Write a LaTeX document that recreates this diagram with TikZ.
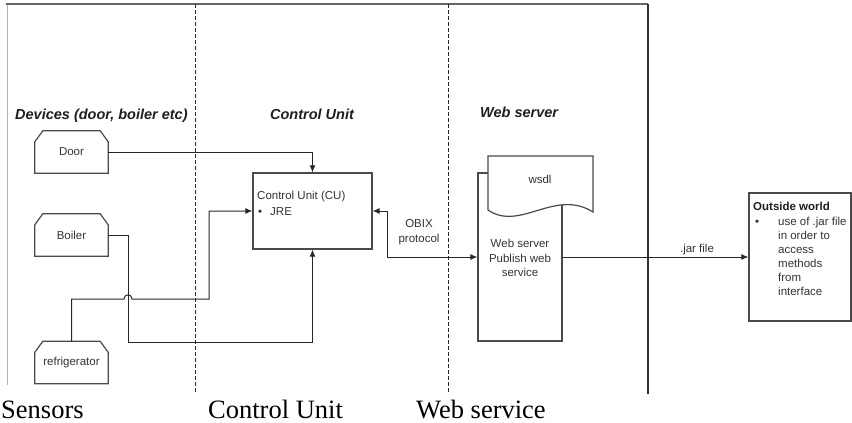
\documentclass[tikz,border=0pt]{standalone}
\usepackage{fontspec}
\setmainfont{Liberation Serif}
\setsansfont{Liberation Sans}
\usetikzlibrary{arrows.meta,calc}
\definecolor{ln}{HTML}{262626}
\definecolor{bx}{HTML}{4A4A4A}
\definecolor{txt}{HTML}{333333}
\definecolor{ttl}{HTML}{1E1E1E}
\begin{document}
\begin{tikzpicture}[x=1pt,y=-1pt,
  conn/.style={draw=ln,line width=1pt},
  arr/.style={-{Latex[length=7pt,width=6pt]}},
  boxline/.style={draw=bx,line width=1.2pt},
  small/.style={font=\sffamily\fontsize{11.5}{14.5}\selectfont,text=txt,inner sep=0pt},
  ttlstyle/.style={font=\sffamily\bfseries\itshape\fontsize{14.5}{16}\selectfont,text=ttl,inner sep=0pt},
  bottomlbl/.style={font=\fontsize{26.5}{30}\selectfont,text=black,inner sep=0pt,anchor=base west},
  devbox/.style={minimum width=73pt,minimum height=42pt,inner sep=0pt,font=\sffamily\fontsize{11.5}{13}\selectfont,text=txt},
  divider/.style={draw=ln,line width=0.8pt,dash pattern=on 4pt off 2pt}]
\useasboundingbox (0,0) rectangle (852,423);

% frame
\draw[draw=black!30,line width=1pt] (7,4) -- (7,385);
\draw[draw=black!60,line width=1.6pt] (6,4) -- (648,4);
\draw[draw=black!80,line width=1.3pt] (648,4) -- (648,394);

% dividers
\draw[divider] (195,4) -- (195,393);
\draw[divider] (448,4) -- (448,393);

% titles
\node[ttlstyle,anchor=base west] (tdev) at (15,119) {Devices (door, boiler etc)};
\node[ttlstyle,anchor=base] (tcu) at (312,119) {Control Unit};
\node[ttlstyle,anchor=base west] (tws) at (480,117) {Web server};

% devices
\node[devbox] (door) at (71.5,152) {Door};
\node[devbox] (boiler) at (71.5,235) {Boiler};
\node[devbox] (fridge) at (71.5,362.5) {refrigerator};
\foreach \n in {door,boiler,fridge}{
  \draw[boxline] (\n.south west) -- ($(\n.north west)+(0,11)$) -- ($(\n.north west)+(8,0)$)
    -- ($(\n.north east)+(-8,0)$) -- ($(\n.north east)+(0,11)$) -- (\n.south east) -- cycle;
}

% control unit
\node[boxline,draw,minimum width=119pt,minimum height=76pt,inner sep=0pt] (cu) at (312.5,211) {};
\node[small,anchor=base west] (cutxt) at (257,199) {Control Unit (CU)};
\node[small,anchor=base west] (cubul) at (258,215) {•};
\node[small,anchor=base west] (cujre) at (270,215) {JRE};

% web server
\node[boxline,draw,minimum width=84pt,minimum height=168pt,inner sep=0pt] (ws) at (520,257) {};
\filldraw[boxline,fill=white] (488,210) -- (488,156) -- (593,156) -- (593,212)
  .. controls (555,188) and (520,232) .. (488,210) -- cycle;
\node[small] (wsdl) at (540,179) {wsdl};
\node[small,align=center] (wstxt) at (520,258) {Web server\\Publish web\\service};

% outside world
\node[boxline,draw,minimum width=102pt,minimum height=128pt,inner sep=0pt] (out) at (800,257) {};
\node[small,font=\sffamily\bfseries\fontsize{11.5}{14}\selectfont,text=ttl,anchor=base west] (owt) at (753,210) {Outside world};
\node[small,anchor=base west] (owb) at (755,225) {•};
\node[small,anchor=base west] (ow1) at (778,225) {use of .jar file};
\node[small,anchor=base west] (ow2) at (778,239) {in order to};
\node[small,anchor=base west] (ow3) at (778,253) {access};
\node[small,anchor=base west] (ow4) at (778,267) {methods};
\node[small,anchor=base west] (ow5) at (778,281) {from};
\node[small,anchor=base west] (ow6) at (778,295) {interface};

% connectors
\coordinate (jre) at (0,211);
\coordinate (bturn) at (128,235);
\coordinate (bdown) at (128,342);
\coordinate (fup) at (71.5,299);
\coordinate (fturn) at (209,299);
\coordinate (obx) at (387,257);

\draw[conn,arr] (door.east) -| (cu.north);
\draw[conn,arr] (boiler.east) -- (bturn) -- (bdown) -| (cu.south);
\draw[conn,arr] (fridge.north) -- (fup) -- (124,299) .. controls (124,293.5) and (132,293.5) .. (132,299)
  -- (fturn) -- (fturn |- jre) -- (cu.west |- jre);
\draw[conn,{Latex[length=7pt,width=6pt]}-{Latex[length=7pt,width=6pt]}] (cu.east |- jre) -| (obx) -- (ws.west);
\node[small,align=center] (obix) at (419,232) {OBIX\\protocol};
\draw[conn,arr] (ws.east) -- (out.west);
\node[small,anchor=base] (jar) at (697,252) {.jar file};

% bottom labels
\node[bottomlbl] (lsens) at (1,418) {Sensors};
\node[bottomlbl] (lcu) at (208,418) {Control Unit};
\node[bottomlbl] (lws) at (416,418) {Web service};
\end{tikzpicture}
\end{document}
